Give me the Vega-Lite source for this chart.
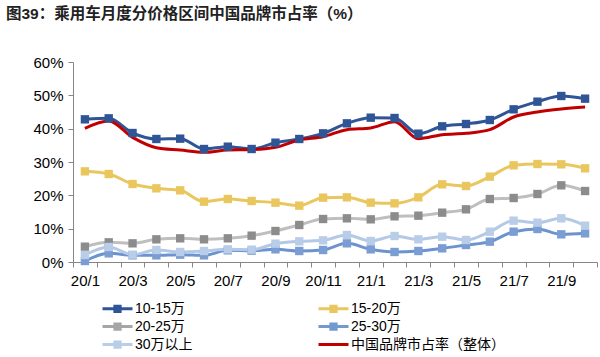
{
  "$schema": "https://vega.github.io/schema/vega-lite/v6.json",
  "width": 524,
  "height": 200,
  "autosize": {"type": "none"},
  "padding": {"left": 73, "top": 62, "right": 3, "bottom": 95},
  "background": "white",
  "title": {
    "text": "图39：乘用车月度分价格区间中国品牌市占率（%）",
    "anchor": "start",
    "frame": "group",
    "dx": -67,
    "offset": 33,
    "fontSize": 15.5,
    "fontWeight": "bold",
    "font": "Liberation Sans, Noto Sans CJK SC, sans-serif",
    "color": "#222222"
  },
  "config": {
    "view": {"stroke": null},
    "font": "Liberation Sans, Noto Sans CJK SC, sans-serif"
  },
  "data": {
    "values": [
      {"month": "20/1", "10-15万": 42.8, "15-20万": 27.2, "20-25万": 4.6, "25-30万": 0.3, "30万以上": 2.1, "中国品牌市占率（整体）": 40.1},
      {"month": "20/2", "10-15万": 43.1, "15-20万": 26.4, "20-25万": 5.9, "25-30万": 2.6, "30万以上": 4.5, "中国品牌市占率（整体）": 42.3},
      {"month": "20/3", "10-15万": 38.7, "15-20万": 23.4, "20-25万": 5.6, "25-30万": 2.0, "30万以上": 2.2, "中国品牌市占率（整体）": 37.4},
      {"month": "20/4", "10-15万": 36.9, "15-20万": 22.1, "20-25万": 6.8, "25-30万": 2.0, "30万以上": 3.6, "中国品牌市占率（整体）": 34.3},
      {"month": "20/5", "10-15万": 37.0, "15-20万": 21.5, "20-25万": 7.1, "25-30万": 2.2, "30万以上": 3.0, "中国品牌市占率（整体）": 33.6},
      {"month": "20/6", "10-15万": 33.9, "15-20万": 18.1, "20-25万": 6.8, "25-30万": 2.0, "30万以上": 3.3, "中国品牌市占率（整体）": 32.9},
      {"month": "20/7", "10-15万": 34.6, "15-20万": 18.9, "20-25万": 7.1, "25-30万": 3.5, "30万以上": 3.8, "中国品牌市占率（整体）": 33.6},
      {"month": "20/8", "10-15万": 33.9, "15-20万": 18.3, "20-25万": 7.9, "25-30万": 3.4, "30万以上": 3.7, "中国品牌市占率（整体）": 33.7},
      {"month": "20/9", "10-15万": 35.8, "15-20万": 17.8, "20-25万": 9.3, "25-30万": 3.8, "30万以上": 5.5, "中国品牌市占率（整体）": 34.4},
      {"month": "20/10", "10-15万": 36.9, "15-20万": 16.9, "20-25万": 11.1, "25-30万": 3.3, "30万以上": 6.2, "中国品牌市占率（整体）": 36.6},
      {"month": "20/11", "10-15万": 38.6, "15-20万": 19.3, "20-25万": 12.9, "25-30万": 3.6, "30万以上": 6.5, "中国品牌市占率（整体）": 37.6},
      {"month": "20/12", "10-15万": 41.6, "15-20万": 19.4, "20-25万": 13.1, "25-30万": 5.6, "30万以上": 8.1, "中国品牌市占率（整体）": 39.7},
      {"month": "21/1", "10-15万": 43.3, "15-20万": 17.8, "20-25万": 12.8, "25-30万": 3.8, "30万以上": 6.3, "中国品牌市占率（整体）": 40.2},
      {"month": "21/2", "10-15万": 43.2, "15-20万": 17.6, "20-25万": 13.7, "25-30万": 3.0, "30万以上": 7.8, "中国品牌市占率（整体）": 42.1},
      {"month": "21/3", "10-15万": 38.5, "15-20万": 19.4, "20-25万": 13.9, "25-30万": 3.3, "30万以上": 6.8, "中国品牌市占率（整体）": 37.0},
      {"month": "21/4", "10-15万": 40.7, "15-20万": 23.3, "20-25万": 14.8, "25-30万": 4.1, "30万以上": 7.6, "中国品牌市占率（整体）": 38.2},
      {"month": "21/5", "10-15万": 41.4, "15-20万": 22.8, "20-25万": 15.8, "25-30万": 5.1, "30万以上": 6.6, "中国品牌市占率（整体）": 38.6},
      {"month": "21/6", "10-15万": 42.6, "15-20万": 25.6, "20-25万": 18.9, "25-30万": 6.1, "30万以上": 9.1, "中国品牌市占率（整体）": 39.7},
      {"month": "21/7", "10-15万": 45.8, "15-20万": 29.0, "20-25万": 19.2, "25-30万": 9.1, "30万以上": 12.4, "中国品牌市占率（整体）": 43.5},
      {"month": "21/8", "10-15万": 48.1, "15-20万": 29.4, "20-25万": 20.4, "25-30万": 9.9, "30万以上": 11.8, "中国品牌市占率（整体）": 45.0},
      {"month": "21/9", "10-15万": 49.8, "15-20万": 29.3, "20-25万": 23.0, "25-30万": 8.3, "30万以上": 13.1, "中国品牌市占率（整体）": 45.9},
      {"month": "21/10", "10-15万": 49.0, "15-20万": 28.1, "20-25万": 21.3, "25-30万": 8.6, "30万以上": 10.9, "中国品牌市占率（整体）": 46.5}
    ]
  },
  "transform": [
    {"fold": ["10-15万", "15-20万", "20-25万", "25-30万", "30万以上", "中国品牌市占率（整体）"], "as": ["series", "value"]}
  ],
  "encoding": {
    "x": {
      "field": "month",
      "type": "ordinal",
      "sort": null,
      "scale": {"type": "band", "paddingInner": 0, "paddingOuter": 0},
      "axis": {
        "title": null,
        "tickBand": "extent",
        "labelAngle": 0,
        "labelOverlap": false,
        "labelExpr": "toNumber(split(datum.value, '/')[1]) % 2 === 1 ? datum.value : ''",
        "tickSize": 5,
        "labelPadding": 6,
        "labelFontSize": 15,
        "labelColor": "#000000",
        "domainColor": "#868686",
        "tickColor": "#868686",
        "domainWidth": 1,
        "encode": {
          "ticks": {"update": {"opacity": {"signal": "datum.extra || toNumber(split(datum.value, '/')[1]) % 2 === 1 ? 1 : 0"}}}
        }
      }
    },
    "y": {
      "field": "value",
      "type": "quantitative",
      "scale": {"domain": [0, 60], "nice": false},
      "axis": {
        "title": null,
        "grid": false,
        "values": [0, 10, 20, 30, 40, 50, 60],
        "labelExpr": "datum.value + '%'",
        "tickSize": 5,
        "labelPadding": 5,
        "labelFontSize": 15,
        "labelColor": "#000000",
        "domainColor": "#868686",
        "tickColor": "#868686"
      }
    }
  },
  "layer": [
    {
      "mark": {"type": "line", "strokeWidth": 3, "interpolate": "monotone"},
      "encoding": {
        "color": {
          "field": "series",
          "type": "nominal",
          "sort": ["10-15万", "15-20万", "20-25万", "25-30万", "30万以上", "中国品牌市占率（整体）"],
          "scale": {
            "domain": ["10-15万", "15-20万", "20-25万", "25-30万", "30万以上", "中国品牌市占率（整体）"],
            "range": ["#2F5597", "#E9C75E", "#BFBFBF", "#6B93CF", "#B4C9E7", "#C00000"]
          },
          "legend": {
            "orient": "none",
            "direction": "horizontal",
            "legendX": 37,
            "legendY": 239,
            "columns": 2,
            "columnPadding": 125,
            "rowPadding": 3,
            "padding": 0,
            "title": null,
            "symbolSize": 225,
            "symbolStrokeWidth": 0,
            "symbolType": "M-2,-0.2H2V0.2H-2Z",
            "labelFontSize": 14,
            "labelColor": "#000000",
            "labelOffset": 10,
            "encode": {
              "symbols": {
                "update": {
                  "shape": {"signal": "datum.value === '中国品牌市占率（整体）' ? 'M-2,-0.2H2V0.2H-2Z' : 'M-2,-0.2H2V0.2H-2Z M-0.55,-0.55H0.55V0.55H-0.55Z'"},
                  "fill": {"signal": "{'10-15万': '#2F5597', '15-20万': '#E9C75E', '20-25万': '#A6A6A6', '25-30万': '#7399D1', '30万以上': '#B9CDE9', '中国品牌市占率（整体）': '#C00000'}[datum.value]"},
                  "strokeWidth": {"value": 0}
                }
              }
            }
          }
        }
      }
    },
    {
      "transform": [{"filter": "datum.series !== '中国品牌市占率（整体）'"}],
      "mark": {"type": "point", "shape": "square", "filled": true, "size": 70, "opacity": 1},
      "encoding": {
        "color": {
          "field": "series",
          "type": "nominal",
          "scale": {
            "domain": ["10-15万", "15-20万", "20-25万", "25-30万", "30万以上"],
            "range": ["#2F5597", "#E9C75E", "#8C8C8C", "#7A9DD3", "#B9CDE9"]
          },
          "legend": null
        }
      }
    }
  ],
  "resolve": {"scale": {"color": "independent"}}
}
